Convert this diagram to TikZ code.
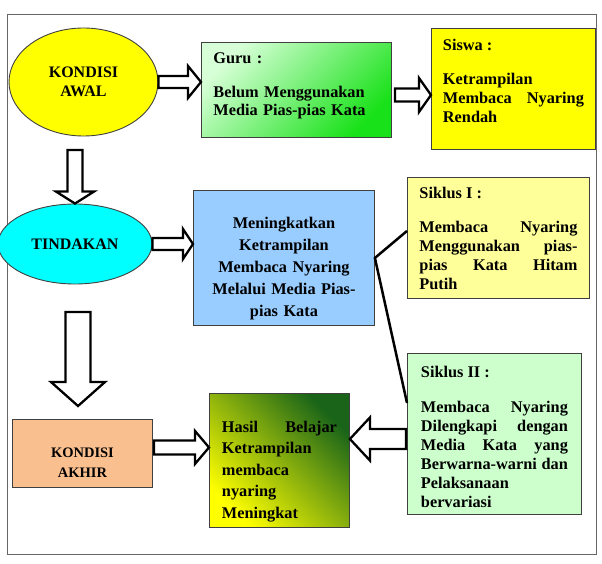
\documentclass[tikz,border=0pt]{standalone}
\usepackage{fontspec}
\setmainfont{Liberation Serif}
\usetikzlibrary{shapes.geometric,calc}
\hyphenpenalty=10000
\tolerance=10000

\definecolor{awalyellow}{RGB}{255,255,0}
\definecolor{gurulight}{RGB}{215,255,215}
\definecolor{gurudark}{RGB}{25,225,25}
\definecolor{siswayellow}{RGB}{255,255,0}
\definecolor{tindakancyan}{RGB}{0,255,255}
\definecolor{upayablue}{RGB}{153,204,255}
\definecolor{siklusone}{RGB}{255,255,153}
\definecolor{siklustwo}{RGB}{204,255,204}
\definecolor{akhirpeach}{RGB}{250,191,143}
\definecolor{hasildark}{RGB}{25,100,25}
\definecolor{hasillight}{RGB}{255,255,0}

\tikzset{
  box/.style={draw=black!75, line width=0.9pt, anchor=north west, inner ysep=0pt,
    font=\bfseries\fontsize{16.3}{19}\selectfont},
  oval/.style={ellipse, draw=black!75, line width=0.9pt, inner sep=0pt, align=center,
    font=\bfseries\fontsize{16}{19}\selectfont},
  fatarrow/.style={draw=black, fill=white, line width=2.3pt, line join=miter},
  link/.style={draw=black, line width=2.5pt},
}

% hollow block arrow: from, to, shaft half width, head half width, head length
\newcommand{\fatarrow}[5]{%
  \coordinate (fa-base) at ($(#2)!#5!(#1)$);
  \draw[fatarrow] ($(#1)!#3!90:(#2)$) -- ($(fa-base)!#3!90:(#2)$)
    -- ($(fa-base)!#4!90:(#2)$) -- (#2) -- ($(fa-base)!#4!-90:(#2)$)
    -- ($(fa-base)!#3!-90:(#2)$) -- ($(#1)!#3!-90:(#2)$) -- cycle;
}

\begin{document}
\begin{tikzpicture}[x=1pt,y=-1pt]
    \useasboundingbox (0,0) rectangle (602,564);
    \draw[black!60, line width=1pt] (7,15) rectangle (596,554);

    % Top row
    \node[oval, fill=awalyellow, minimum width=149pt, minimum height=108pt] (awal) at (83.5,82) {KONDISI\\AWAL};
    \node[box, top color=gurulight, bottom color=gurudark, shading angle=45,
      inner xsep=12pt, text width=166pt, text height=21pt, text depth=74pt, align=left,
      font=\bfseries\fontsize{16.3}{18}\selectfont] (guru) at (201,42)
      {Guru :\\[16pt]Belum Menggunakan\\Media Pias-pias Kata};
    \node[box, fill=siswayellow, inner xsep=11.5pt, text width=141pt, text height=22pt, text depth=99pt,
      align=justify] (siswa) at (431,28)
      {Siswa :\\[15pt]Ketrampilan\linebreak Membaca Nyaring\linebreak Rendah};

    % Middle row
    \node[oval, fill=tindakancyan, minimum width=154pt, minimum height=80pt] (tindakan) at (75,244) {TINDAKAN};
    \node[box, fill=upayablue, inner xsep=12pt, text width=157pt, text height=38pt, text depth=97pt,
      align=center, font=\bfseries\fontsize{16.3}{22}\selectfont] (upaya) at (193,190)
      {Meningkatkan\\Ketrampilan\\Membaca Nyaring\\Melalui Media Pias-\\pias Kata};
    \node[box, fill=siklusone, inner xsep=12pt, text width=158pt, text height=21pt, text depth=100pt,
      align=justify] (siklus1) at (407,177)
      {Siklus I :\\[15pt]Membaca Nyaring\linebreak Menggunakan pias-\linebreak pias Kata Hitam\linebreak Putih};
    \node[box, fill=siklustwo, inner xsep=13.5pt, text width=147pt, text height=24pt, text depth=137pt,
      align=justify] (siklus2) at (407,353)
      {Siklus II :\\[16pt]Membaca Nyaring\linebreak Dilengkapi dengan\linebreak Media Kata yang\linebreak
       Berwarna-warni dan\linebreak Pelaksanaan\linebreak bervariasi};

    % Bottom row
    \node[box, fill=akhirpeach, inner xsep=0pt, text width=140pt, text height=38pt, text depth=30pt,
      align=center, font=\bfseries\fontsize{14.5}{20}\selectfont] (akhir) at (12,419) {KONDISI\\AKHIR};
    \node[box, top color=hasildark, bottom color=hasillight, shading angle=-45,
      inner xsep=12.5pt, text width=115pt, text height=39pt, text depth=95pt, align=justify,
      font=\bfseries\fontsize{16.3}{21.5}\selectfont] (hasil) at (209,393)
      {Hasil Belajar\linebreak Ketrampilan\linebreak membaca\linebreak nyaring\linebreak Meningkat};

    % Arrow end points
    \coordinate (a2s) at (395,95);
    \coordinate (a4s) at ($(akhir.east)+(1,-6)$);
    \coordinate (a5s) at (406,439);
    \coordinate (d1s) at (75,150);
    \coordinate (d2s) at (78,312);
    \coordinate (d2e) at (78,406);

    % Block arrows
    \fatarrow{awal.east}{guru.west |- awal.east}{6pt}{16pt}{13pt}
    \fatarrow{a2s}{siswa.west |- a2s}{6.5pt}{17pt}{12pt}
    \fatarrow{tindakan.east}{upaya.west |- tindakan.east}{6pt}{15pt}{10pt}
    \fatarrow{a4s}{hasil.west |- a4s}{7pt}{16.5pt}{14pt}
    \fatarrow{a5s}{hasil.east |- a5s}{10pt}{21.5pt}{20pt}
    \fatarrow{d1s}{tindakan.north}{7.5pt}{19pt}{12pt}
    \fatarrow{d2s}{d2e}{12.5pt}{27pt}{24pt}

    % Links to the cycles
    \draw[link] ($(siklus1.west)+(0,-7)$) -- (upaya.east) -- ($(siklus2.west)+(0,-31)$);
\end{tikzpicture}
\end{document}
